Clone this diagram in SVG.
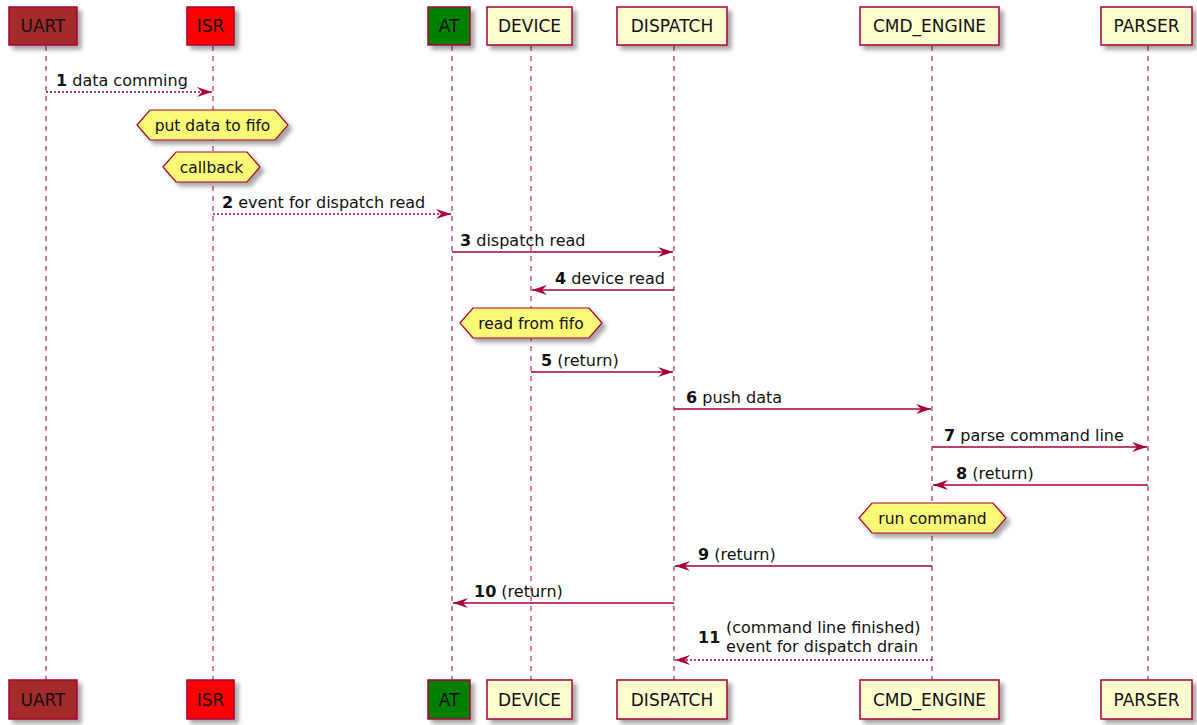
<svg xmlns="http://www.w3.org/2000/svg" width="1197" height="725" viewBox="0 0 1197 725">
<style>
text{font-family:"DejaVu Sans","Liberation Sans",sans-serif;fill:#111}
.p{font-size:17px;text-anchor:middle}
.m{font-size:16px}
.h{font-size:15.5px;text-anchor:middle}
.b{font-weight:bold}
.box{stroke:#A80036;stroke-width:1.5;filter:url(#sh)}
.life{stroke:#A80036;stroke-width:1;stroke-dasharray:5,5;fill:none}
.msg{stroke:#A80036;stroke-width:1.3;fill:none}
.dash{stroke-dasharray:2,2}
.hex{fill:#FBFB77;stroke:#A80036;stroke-width:1.2;filter:url(#sh)}
</style>
<defs>
<filter id="sh" x="-20%" y="-20%" width="150%" height="160%">
<feDropShadow dx="4" dy="4" stdDeviation="2" flood-color="#000" flood-opacity="0.35"/>
</filter>
<marker id="ah" viewBox="0 0 15 10" refX="15" refY="5" markerWidth="15" markerHeight="10" markerUnits="userSpaceOnUse" orient="auto">
<path d="M0,0 L15,5 L0,10 L5,5 Z" fill="#A80036"/>
</marker>
</defs>
<g id="lifelines">
<line class="life" x1="46" y1="46" x2="46" y2="680"/>
<line class="life" x1="213" y1="46" x2="213" y2="680"/>
<line class="life" x1="452" y1="46" x2="452" y2="680"/>
<line class="life" x1="531" y1="46" x2="531" y2="680"/>
<line class="life" x1="674" y1="46" x2="674" y2="680"/>
<line class="life" x1="932" y1="46" x2="932" y2="680"/>
<line class="life" x1="1148" y1="46" x2="1148" y2="680"/>
</g>
<g id="UART">
<rect class="box" x="9" y="7" width="68" height="38" fill="#A52A2A"/><text class="p" x="43" y="32">UART</text>
<rect class="box" x="9" y="680" width="68" height="39" fill="#A52A2A"/><text class="p" x="43" y="706">UART</text>
</g>
<g id="ISR">
<rect class="box" x="187" y="7" width="47" height="38" fill="#FF0000"/><text class="p" x="210.5" y="32">ISR</text>
<rect class="box" x="187" y="680" width="47" height="39" fill="#FF0000"/><text class="p" x="210.5" y="706">ISR</text>
</g>
<g id="AT">
<rect class="box" x="428" y="7" width="42" height="38" fill="#008000"/><text class="p" x="449" y="32">AT</text>
<rect class="box" x="428" y="680" width="42" height="39" fill="#008000"/><text class="p" x="449" y="706">AT</text>
</g>
<g id="DEVICE">
<rect class="box" x="487" y="7" width="85" height="38" fill="#FEFECE"/><text class="p" x="529.5" y="32">DEVICE</text>
<rect class="box" x="487" y="680" width="85" height="39" fill="#FEFECE"/><text class="p" x="529.5" y="706">DEVICE</text>
</g>
<g id="DISPATCH">
<rect class="box" x="617" y="7" width="110" height="38" fill="#FEFECE"/><text class="p" x="672" y="32">DISPATCH</text>
<rect class="box" x="617" y="680" width="110" height="39" fill="#FEFECE"/><text class="p" x="672" y="706">DISPATCH</text>
</g>
<g id="CMD_ENGINE">
<rect class="box" x="860" y="7" width="139" height="38" fill="#FEFECE"/><text class="p" x="929.5" y="32">CMD_ENGINE</text>
<rect class="box" x="860" y="680" width="139" height="39" fill="#FEFECE"/><text class="p" x="929.5" y="706">CMD_ENGINE</text>
</g>
<g id="PARSER">
<rect class="box" x="1101" y="7" width="91" height="38" fill="#FEFECE"/><text class="p" x="1146.5" y="32">PARSER</text>
<rect class="box" x="1101" y="680" width="91" height="39" fill="#FEFECE"/><text class="p" x="1146.5" y="706">PARSER</text>
</g>
<g id="connectors">
<line class="msg dash" x1="46" y1="92" x2="212" y2="92" marker-end="url(#ah)"/>
<text class="m" x="56" y="86"><tspan class="b">1</tspan> data comming</text>
<line class="msg dash" x1="213" y1="214" x2="451" y2="214" marker-end="url(#ah)"/>
<text class="m" x="222" y="208"><tspan class="b">2</tspan> event for dispatch read</text>
<line class="msg" x1="452" y1="252" x2="673" y2="252" marker-end="url(#ah)"/>
<text class="m" x="460" y="246"><tspan class="b">3</tspan> dispatch read</text>
<line class="msg" x1="674" y1="290" x2="532" y2="290" marker-end="url(#ah)"/>
<text class="m" x="555" y="284"><tspan class="b">4</tspan> device read</text>
<line class="msg" x1="531" y1="372" x2="673" y2="372" marker-end="url(#ah)"/>
<text class="m" x="541" y="366"><tspan class="b">5</tspan> (return)</text>
<line class="msg" x1="674" y1="409" x2="931" y2="409" marker-end="url(#ah)"/>
<text class="m" x="686" y="403"><tspan class="b">6</tspan> push data</text>
<line class="msg" x1="932" y1="447" x2="1147" y2="447" marker-end="url(#ah)"/>
<text class="m" x="944" y="441"><tspan class="b">7</tspan> parse command line</text>
<line class="msg" x1="1148" y1="485" x2="933" y2="485" marker-end="url(#ah)"/>
<text class="m" x="956" y="479"><tspan class="b">8</tspan> (return)</text>
<line class="msg" x1="932" y1="566" x2="675" y2="566" marker-end="url(#ah)"/>
<text class="m" x="698" y="560"><tspan class="b">9</tspan> (return)</text>
<line class="msg" x1="674" y1="603" x2="453" y2="603" marker-end="url(#ah)"/>
<text class="m" x="474" y="597"><tspan class="b">10</tspan> (return)</text>
<line class="msg dash" x1="932" y1="660" x2="675" y2="660" marker-end="url(#ah)"/>
<text class="m b" x="698" y="643">11</text>
<text class="m" x="726" y="633">(command line finished)</text>
<text class="m" x="726" y="652">event for dispatch drain</text>
</g>
<g id="note_put_data">
<polygon class="hex" points="137,125 150,110 275,110 288,125 275,140 150,140"/>
<text class="h" x="212.5" y="130.5">put data to fifo</text>
</g>
<g id="note_callback">
<polygon class="hex" points="163,167 176,152 247,152 260,167 247,182 176,182"/>
<text class="h" x="211.5" y="172.5">callback</text>
</g>
<g id="note_read_fifo">
<polygon class="hex" points="460,323 473,308 589,308 602,323 589,338 473,338"/>
<text class="h" x="531" y="328.5">read from fifo</text>
</g>
<g id="note_run_command">
<polygon class="hex" points="859,518 872,503 993,503 1006,518 993,533 872,533"/>
<text class="h" x="932.5" y="523.5">run command</text>
</g>
</svg>
